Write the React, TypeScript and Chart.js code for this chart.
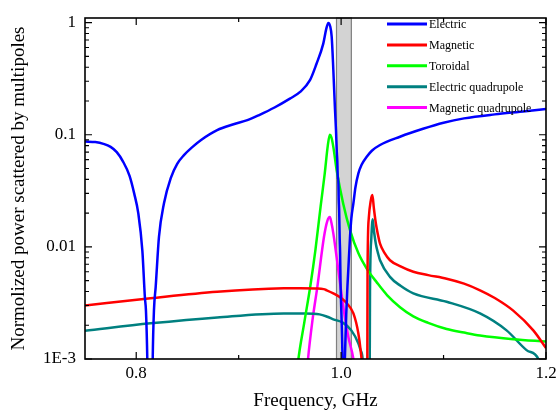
import React, { useEffect, useRef } from "react";
import { Chart, registerables } from "chart.js";

Chart.register(...registerables);

// ---------- data ----------
const seriesNames = ["Electric", "Magnetic", "Toroidal", "Electric quadrupole", "Magnetic quadrupole"];
const seriesColors = ["#0000ff", "#ff0000", "#00ff00", "#008080", "#ff00ff"];

const electricX = [
  0.75, 0.76, 0.768, 0.775, 0.781, 0.787, 0.7935, 0.798, 0.802, 0.806, 0.8085, 0.8095, 0.8108, 0.8115,
  0.8155, 0.8161, 0.8173, 0.819, 0.8222, 0.8271, 0.8337, 0.84, 0.8466, 0.855, 0.863, 0.879, 0.895,
  0.9085, 0.92, 0.935, 0.95, 0.96, 0.9696, 0.976, 0.9826, 0.9855, 0.9875, 0.9893, 0.9908, 0.9924,
  0.994, 0.995, 0.9958, 0.9963, 0.9968, 0.9972, 0.9977, 0.9981, 0.9986, 0.999, 0.9995, 1.0005,
  1.0012, 1.0016, 1.003, 1.0038, 1.005, 1.0062, 1.007, 1.0087, 1.01, 1.012, 1.014, 1.0168, 1.02,
  1.025, 1.03, 1.038, 1.0575, 1.08, 1.1, 1.12, 1.15, 1.18, 1.2,
];
const electricY = [
  0.087, 0.086, 0.083, 0.078, 0.07, 0.058, 0.043, 0.03, 0.02, 0.0092, 0.0035, 0.0027, 0.001, 0.0003,
  0.0003, 0.001, 0.0027, 0.0044, 0.0123, 0.0245, 0.041, 0.055, 0.0658, 0.078, 0.0895, 0.11, 0.124,
  0.135, 0.15, 0.175, 0.21, 0.241, 0.307, 0.43, 0.65, 0.88, 0.995, 0.93, 0.75, 0.38,
  0.17, 0.11, 0.07, 0.058, 0.04, 0.042, 0.026, 0.021, 0.012, 0.009, 0.0045, 0.0022,
  0.0012, 0.0006, 0.0006, 0.0011, 0.0025, 0.0045, 0.0062, 0.0123, 0.018, 0.0245, 0.034, 0.045, 0.054,
  0.0636, 0.072, 0.081, 0.096, 0.113, 0.128, 0.14, 0.152, 0.162, 0.17,
];

const magneticX = [
  0.75, 0.814, 0.879, 0.944, 0.96, 0.975, 0.983, 0.986, 0.9924, 1.0, 1.0055, 1.012, 1.0168, 1.019,
  1.0205, 1.021, 1.0255, 1.0258, 1.027, 1.029, 1.0305, 1.032, 1.034, 1.036, 1.038, 1.0425, 1.0477,
  1.058, 1.0705, 1.085, 1.103, 1.12, 1.1356, 1.15, 1.168, 1.1876, 1.199, 1.2,
];
const magneticY = [
  0.003, 0.00348, 0.00398, 0.00427, 0.00428, 0.00425, 0.0042, 0.0041, 0.00385, 0.0035, 0.00314,
  0.00255, 0.0017, 0.0012, 0.0008, 0.0005, 0.0005, 0.006, 0.018, 0.026, 0.029, 0.022, 0.016, 0.0128,
  0.0107, 0.0088, 0.0076, 0.0067, 0.006, 0.0056, 0.0052, 0.0047, 0.0041, 0.0035, 0.0027, 0.0018,
  0.00129, 0.00125,
];

const toroidalX = [
  0.955, 0.958, 0.964, 0.97, 0.975, 0.98, 0.984, 0.987, 0.989, 0.9905, 0.9924, 0.9957, 1.002,
  1.0087, 1.0168, 1.025, 1.035, 1.045, 1.0575, 1.0705, 1.085, 1.103, 1.12, 1.1356, 1.168, 1.2,
];
const toroidalY = [
  0.0005, 0.00095, 0.0021, 0.0045, 0.0095, 0.023, 0.045, 0.08, 0.1, 0.095, 0.078, 0.048, 0.0244,
  0.0141, 0.0088, 0.0064, 0.0048, 0.0037, 0.0029, 0.0024, 0.0021, 0.00185, 0.00172, 0.00162,
  0.0015, 0.00143,
];

const elecQuadX = [
  0.75, 0.814, 0.879, 0.944, 0.965, 0.979, 0.9865, 0.9924, 1.002, 1.01, 1.0168, 1.019, 1.021,
  1.022, 1.0278, 1.0282, 1.0295, 1.0308, 1.032, 1.034, 1.036, 1.038, 1.0477, 1.058, 1.0705, 1.103,
  1.1356, 1.1615, 1.181, 1.1925, 1.197,
];
const elecQuadY = [
  0.00179, 0.00208, 0.00235, 0.00255, 0.00255, 0.0025, 0.00238, 0.00226, 0.0021, 0.0018, 0.00138,
  0.0012, 0.001, 0.0006, 0.0005, 0.004, 0.012, 0.0176, 0.014, 0.0105, 0.0088, 0.0076, 0.0054,
  0.0045, 0.00385, 0.00324, 0.00255, 0.0018, 0.0012, 0.001, 0.0007,
];

const magQuadX = [
  0.965, 0.9677, 0.972, 0.9768, 0.9833, 0.9865, 0.989, 0.9905, 0.9924, 0.9973, 1.0022, 1.007,
  1.012, 1.014,
];
const magQuadY = [
  0.0005, 0.001, 0.0022, 0.0044, 0.0123, 0.017, 0.0185, 0.0165, 0.0132, 0.0062, 0.0029, 0.00158,
  0.001, 0.0007,
];

const xMajorTicks = [0.8, 1.0, 1.2];
const xMinorTicks = [0.9, 1.1];
const yTickValues = [0.001, 0.01, 0.1, 1];
const yTickLabels = ["1E-3", "0.01", "0.1", "1"];
const bandRange = [0.9955, 1.01];

const FONT = '"Liberation Serif", "Times New Roman", serif';

const toPoints = (xs: number[], ys: number[]) => xs.map((x, i) => ({ x, y: ys[i] }));

const bandPlugin = {
  id: "band",
  beforeDraw(chart: any) {
    const { ctx, chartArea, scales } = chart;
    const x1 = scales.x.getPixelForValue(bandRange[0]);
    const x2 = scales.x.getPixelForValue(bandRange[1]);
    ctx.save();
    ctx.fillStyle = "#d3d3d3";
    ctx.fillRect(x1, chartArea.top, x2 - x1, chartArea.bottom - chartArea.top);
    ctx.strokeStyle = "#808080";
    ctx.lineWidth = 1.2;
    ctx.strokeRect(x1, chartArea.top, x2 - x1, chartArea.bottom - chartArea.top);
    ctx.restore();
  },
};

const framePlugin = {
  id: "frame",
  afterDatasetsDraw(chart: any) {
    const { ctx, chartArea, scales } = chart;
    const { left, right, top, bottom } = chartArea;
    ctx.save();
    ctx.strokeStyle = "#000";
    ctx.lineWidth = 1.2;
    ctx.beginPath();
    const xt = (v: number, len: number) => {
      const p = scales.x.getPixelForValue(v);
      ctx.moveTo(p, bottom);
      ctx.lineTo(p, bottom - len);
      ctx.moveTo(p, top);
      ctx.lineTo(p, top + len);
    };
    const yt = (v: number, len: number) => {
      const p = scales.y.getPixelForValue(v);
      ctx.moveTo(left, p);
      ctx.lineTo(left + len, p);
      ctx.moveTo(right, p);
      ctx.lineTo(right - len, p);
    };
    xMajorTicks.forEach((v) => xt(v, 7));
    xMinorTicks.forEach((v) => xt(v, 4));
    yTickValues.forEach((v) => yt(v, 7));
    [0.001, 0.01, 0.1].forEach((d) => {
      for (let k = 2; k <= 9; k++) yt(k * d, 4);
    });
    ctx.stroke();
    ctx.lineWidth = 1.6;
    ctx.strokeRect(left, top, right - left, bottom - top);
    ctx.restore();
  },
};

const legendPlugin = {
  id: "insideLegend",
  afterDraw(chart: any) {
    const { ctx, chartArea } = chart;
    ctx.save();
    ctx.font = `12px ${FONT}`;
    ctx.textBaseline = "middle";
    ctx.textAlign = "left";
    seriesNames.forEach((name, i) => {
      const y = chartArea.top + 6 + i * 20.9;
      const x0 = chartArea.left + 302;
      ctx.strokeStyle = seriesColors[i];
      ctx.lineWidth = 3;
      ctx.beginPath();
      ctx.moveTo(x0, y);
      ctx.lineTo(x0 + 40, y);
      ctx.stroke();
      ctx.fillStyle = "#000";
      ctx.fillText(name, x0 + 42, y + 1);
    });
    ctx.restore();
  },
};

export default function App() {
  const ref = useRef<HTMLCanvasElement | null>(null);

  useEffect(() => {
    if (!ref.current) return;
    const xs = [electricX, magneticX, toroidalX, elecQuadX, magQuadX];
    const ys = [electricY, magneticY, toroidalY, elecQuadY, magQuadY];
    const chart = new Chart(ref.current, {
      type: "line",
      data: {
        datasets: seriesNames.map((name, i) => ({
          label: name,
          data: toPoints(xs[i], ys[i]),
          borderColor: seriesColors[i],
          backgroundColor: seriesColors[i],
          borderWidth: 2.5,
          pointRadius: 0,
          fill: false,
          cubicInterpolationMode: "monotone" as const,
          clip: 0,
        })),
      },
      options: {
        responsive: false,
        animation: false,
        layout: { padding: { top: 18, right: 10, left: 0, bottom: 0 } },
        plugins: { legend: { display: false }, tooltip: { enabled: false } },
        scales: {
          x: {
            type: "linear",
            min: 0.75,
            max: 1.2,
            grid: { display: false, drawTicks: false },
            border: { display: false },
            afterBuildTicks: (s: any) => {
              s.ticks = xMajorTicks.map((v) => ({ value: v }));
            },
            afterFit: (s: any) => {
              s.height = 58;
              s.paddingLeft = 0;
              s.paddingRight = 0;
            },
            ticks: {
              padding: 4,
              color: "#000",
              maxRotation: 0,
              autoSkip: false,
              font: { family: FONT, size: 17 },
              callback: (v: any) => Number(v).toFixed(1),
            },
            title: {
              display: true,
              text: "Frequency, GHz",
              color: "#000",
              font: { family: FONT, size: 19 },
              padding: { top: 0, bottom: 5 },
            },
          },
          y: {
            type: "logarithmic",
            min: 0.001,
            max: 1.1,
            grid: { display: false, drawTicks: false },
            border: { display: false },
            afterBuildTicks: (s: any) => {
              s.ticks = yTickValues.map((v) => ({ value: v }));
            },
            afterFit: (s: any) => {
              s.width = 85;
              s.paddingTop = 0;
              s.paddingBottom = 0;
            },
            ticks: {
              padding: 9,
              color: "#000",
              autoSkip: false,
              font: { family: FONT, size: 17 },
              callback: (v: any) => {
                const idx = yTickValues.findIndex((t) => Math.abs(t - Number(v)) / t < 1e-6);
                return idx >= 0 ? yTickLabels[idx] : "";
              },
            },
            title: {
              display: true,
              text: "Normolized power scattered by multipoles",
              color: "#000",
              font: { family: FONT, size: 19 },
              padding: { top: 8, bottom: 0 },
            },
          },
        },
      },
      plugins: [bandPlugin, framePlugin, legendPlugin],
    });
    return () => chart.destroy();
  }, []);

  return (
    <div style={{ position: "fixed", left: 0, top: 0, width: 556, height: 417, background: "#fff" }}>
      <canvas ref={ref} width={556} height={417} style={{ display: "block" }} />
    </div>
  );
}
